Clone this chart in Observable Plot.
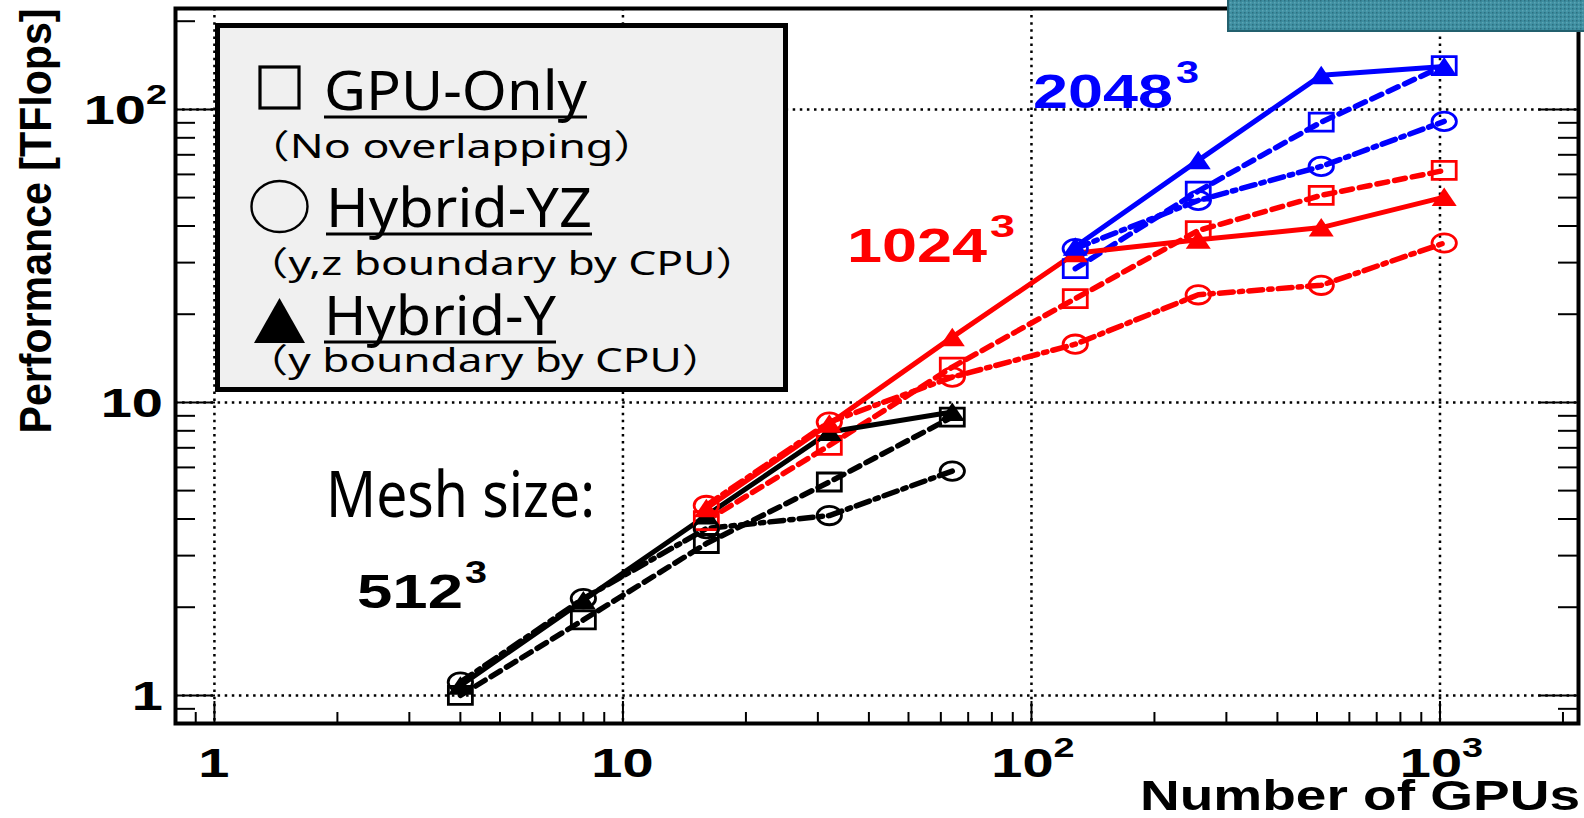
<!DOCTYPE html>
<html><head><meta charset="utf-8">
<script src="https://cdn.jsdelivr.net/npm/d3@7"></script>
<script src="https://cdn.jsdelivr.net/npm/@observablehq/plot@0.6"></script>
<style>
body{margin:0;background:#fff;}
#chart{position:relative;width:1584px;height:818px;overflow:hidden;}
</style>
</head><body><div id="chart"></div>
<script>
// ---- data ----
const meshes = ["512³", "1024³", "2048³"];
const meshColors = ["black", "red", "blue"];
const methods = ["GPU-Only", "Hybrid-YZ", "Hybrid-Y"];

const gpus512 = [4, 8, 16, 32, 64];
const gpuOnly512 = [1.0, 1.81, 3.30, 5.35, 8.91];
const hybridYZ512 = [1.11, 2.14, 3.71, 4.11, 5.83];
const hybridY512 = [1.08, 2.11, 4.11, 7.92, 9.27];

const gpus1024 = [16, 32, 64, 128, 256, 512, 1024];
const gpuOnly1024 = [3.95, 7.13, 13.2, 22.6, 38.6, 50.9, 61.9];
const hybridYZ1024 = [4.45, 8.57, 12.2, 15.8, 23.3, 25.1, 35.0];
const hybridY1024 = [4.35, 8.45, 16.7, 32.3, 35.9, 39.5, 50.2];

const gpus2048 = [128, 256, 512, 1024];
const gpuOnly2048 = [28.6, 52.6, 90.5, 141];
const hybridYZ2048 = [33.5, 48.9, 63.9, 91];
const hybridY2048 = [34, 67.0, 130.7, 140];

const xTickValues = [1, 10, 100, 1000];
const xTickBase = ["1", "10", "10", "10"];
const xTickExp = ["", "", "2", "3"];
const yTickValues = [1, 10, 100];
const yTickBase = ["1", "10", "10"];
const yTickExp = ["", "", "2"];
const xMinorTicks = [0.9, 2, 3, 4, 5, 6, 7, 8, 9, 20, 30, 40, 50, 60, 70, 80, 90, 200, 300, 400, 500, 600, 700, 800, 900, 2000];
const yMinorTicks = [0.9, 2, 3, 4, 5, 6, 7, 8, 9, 20, 30, 40, 50, 60, 70, 80, 90, 200];

const legendTitles = ["GPU-Only", "Hybrid-YZ", "Hybrid-Y"];
const legendNotes = ["（No overlapping）", "（y,z boundary by CPU）", "（y boundary by CPU）"];

// ---- build rows ----
const table = [
  [meshes[0], gpus512, [gpuOnly512, hybridYZ512, hybridY512]],
  [meshes[1], gpus1024, [gpuOnly1024, hybridYZ1024, hybridY1024]],
  [meshes[2], gpus2048, [gpuOnly2048, hybridYZ2048, hybridY2048]]
];
const rows = [];
for (const [mesh, gpus, vals] of table) {
  methods.forEach((m, k) => gpus.forEach((g, i) => rows.push({mesh, method: m, gpus: g, tflops: vals[k][i]})));
}
const byMethod = m => rows.filter(d => d.method === m);

// ---- layout ----
const W = 1584, H = 818;
const M = {left: 175, right: 6, top: 8, bottom: 95};
const innerW = W - M.left - M.right, innerH = H - M.top - M.bottom;

// ---- custom marker symbols ----
const wideSquare = {draw(c) { c.rect(-12, -9, 24, 18); }};
const ellipse = {draw(c) {
  const rx = 12.2, ry = 9.2, kx = rx * 0.5523, ky = ry * 0.5523;
  c.moveTo(rx, 0);
  c.bezierCurveTo(rx, ky, kx, ry, 0, ry);
  c.bezierCurveTo(-kx, ry, -rx, ky, -rx, 0);
  c.bezierCurveTo(-rx, -ky, -kx, -ry, 0, -ry);
  c.bezierCurveTo(kx, -ry, rx, -ky, rx, 0);
  c.closePath();
}};
const triangle = {draw(c) { c.moveTo(0, -9.5); c.lineTo(12.5, 9); c.lineTo(-12.5, 9); c.closePath(); }};

const dashed = {strokeDasharray: "11,7", strokeWidth: 5.5};
const dashDot = {strokeDasharray: "14,6,3.5,6", strokeWidth: 5.5};
const solid = {strokeWidth: 5};

const grid = {stroke: "black", strokeWidth: 2.5, strokeDasharray: "2.5,4.6"};

const svg = Plot.plot({
  width: W, height: H,
  marginLeft: M.left, marginRight: M.right, marginTop: M.top, marginBottom: M.bottom,
  x: {type: "log", domain: [0.803, 2183], axis: null},
  y: {type: "log", domain: [0.802, 221], axis: null},
  color: {domain: meshes, range: meshColors},
  style: {background: "white", overflow: "visible"},
  marks: [
    Plot.ruleX(xTickValues, {x: d => d, ...grid}),
    Plot.ruleY(yTickValues, {y: d => d, ...grid}),
    // inward ticks
    Plot.tickX(xMinorTicks, {x: d => d, insetTop: innerH - 11, stroke: "black", strokeWidth: 2}),
    Plot.tickX(xTickValues, {x: d => d, insetTop: innerH - 22, stroke: "black", strokeWidth: 2}),
    Plot.tickY(yMinorTicks, {y: d => d, insetRight: innerW - 20, stroke: "black", strokeWidth: 2}),
    Plot.tickY(yTickValues, {y: d => d, insetRight: innerW - 40, stroke: "black", strokeWidth: 2}),
    Plot.tickY(yMinorTicks, {y: d => d, insetLeft: innerW - 20, stroke: "black", strokeWidth: 2}),
    Plot.tickY(yTickValues, {y: d => d, insetLeft: innerW - 40, stroke: "black", strokeWidth: 2}),
    // series lines
    Plot.line(byMethod("GPU-Only"), {x: "gpus", y: "tflops", z: "mesh", stroke: "mesh", ...dashed}),
    Plot.line(byMethod("Hybrid-YZ"), {x: "gpus", y: "tflops", z: "mesh", stroke: "mesh", ...dashDot}),
    Plot.line(byMethod("Hybrid-Y"), {x: "gpus", y: "tflops", z: "mesh", stroke: "mesh", ...solid}),
    // markers
    Plot.dot(byMethod("GPU-Only"), {x: "gpus", y: "tflops", stroke: "mesh", fill: "none", strokeWidth: 2.8, symbol: wideSquare, r: 10}),
    Plot.dot(byMethod("Hybrid-YZ"), {x: "gpus", y: "tflops", stroke: "mesh", fill: "none", strokeWidth: 2.8, symbol: ellipse, r: 10}),
    Plot.dot(byMethod("Hybrid-Y"), {x: "gpus", y: "tflops", fill: "mesh", stroke: "none", symbol: triangle, r: 10}),
    Plot.frame({stroke: "black", strokeWidth: 4})
  ]
});
document.getElementById("chart").appendChild(svg);
const sx = svg.scale("x"), sy = svg.scale("y");

// ---- overlays: tick labels, legend box, annotations, axis titles ----
const g = d3.select(svg).append("g");
const bold = "Liberation Sans, Arial, sans-serif";
function txt(s, o) {
  const t = g.append("text").text(s)
    .attr("x", o.x).attr("y", o.y)
    .attr("font-size", o.size).attr("font-family", o.family || "Noto Sans, Noto Sans CJK JP")
    .attr("font-weight", o.weight || "normal").attr("fill", o.fill || "black")
    .attr("text-anchor", o.anchor || "start");
  if (o.len) t.attr("textLength", o.len).attr("lengthAdjust", "spacingAndGlyphs");
  if (o.transform) t.attr("transform", o.transform);
  return t;
}
// tick label: base + optional superscript, stretched horizontally
function tickLabel(base, exp, px, py, anchor) {
  const grp = g.append("g").attr("transform", `translate(${px},${py}) scale(1.4,1)`);
  const t = grp.append("text").attr("text-anchor", anchor)
    .attr("font-family", bold).attr("font-weight", "bold").attr("font-size", 40).attr("fill", "black");
  t.append("tspan").text(base);
  if (exp) t.append("tspan").attr("dy", -20).attr("font-size", 27).text(exp);
}
xTickValues.forEach((v, i) => {
  const shift = xTickExp[i] ? 2 : 0;
  tickLabel(xTickBase[i], xTickExp[i], sx.apply(v) + shift, 777, "middle");
});
yTickValues.forEach((v, i) => tickLabel(yTickBase[i], yTickExp[i], yTickExp[i] ? 167 : 163, sy.apply(v) + 15, "end"));

// teal box cut at the top right
const defs = d3.select(svg).append("defs");
const pat = defs.append("pattern").attr("id", "hatch").attr("width", 4).attr("height", 4).attr("patternUnits", "userSpaceOnUse");
pat.append("rect").attr("width", 4).attr("height", 4).attr("fill", "#3f8fa1");
pat.append("rect").attr("width", 1.5).attr("height", 1.5).attr("fill", "#2c6f80");
pat.append("rect").attr("x", 2).attr("y", 2).attr("width", 1.5).attr("height", 1.5).attr("fill", "#5aa4b4");
g.append("rect").attr("x", 1228).attr("y", -3).attr("width", 360).attr("height", 34)
  .attr("fill", "url(#hatch)").attr("stroke", "#23606e").attr("stroke-width", 2);

// legend box
g.append("rect").attr("x", 217.5).attr("y", 25.5).attr("width", 568).attr("height", 364)
  .attr("fill", "#f0f0f0").attr("stroke", "black").attr("stroke-width", 5);
g.append("rect").attr("x", 260).attr("y", 67).attr("width", 39).attr("height", 41)
  .attr("fill", "none").attr("stroke", "black").attr("stroke-width", 3.2);
g.append("ellipse").attr("cx", 279.5).attr("cy", 206.5).attr("rx", 28).attr("ry", 25.5)
  .attr("fill", "none").attr("stroke", "black").attr("stroke-width", 2.4);
g.append("path").attr("d", "M279.5,298L305,343L254,343Z").attr("fill", "black");

const legendRows = [
  {tx: 324, ty: 110, tl: 263, ul: 117, nx: 245, ny: 158, nl: 413},
  {tx: 326, ty: 227, tl: 266, ul: 234, nx: 244, ny: 275, nl: 516},
  {tx: 324, ty: 335, tl: 232, ul: 342, nx: 244, ny: 372, nl: 482}
];
legendRows.forEach((r, i) => {
  txt(legendTitles[i], {x: r.tx, y: r.ty, size: 54, len: r.tl});
  g.append("line").attr("x1", r.tx).attr("x2", r.tx + r.tl).attr("y1", r.ul).attr("y2", r.ul)
    .attr("stroke", "black").attr("stroke-width", 2.8);
  txt(legendNotes[i], {x: r.nx, y: r.ny, size: 33, len: r.nl});
});

// mesh annotations
txt("Mesh size:", {x: 326, y: 517, size: 63, len: 269});
txt("512", {x: 357, y: 607.5, size: 47.5, weight: "bold", family: bold, len: 106});
txt("3", {x: 465, y: 583, size: 31, weight: "bold", family: bold, len: 22});
txt("1024", {x: 847, y: 262, size: 47.5, weight: "bold", family: bold, len: 140, fill: "red"});
txt("3", {x: 990, y: 237, size: 31, weight: "bold", family: bold, len: 25, fill: "red"});
txt("2048", {x: 1033, y: 108, size: 47.5, weight: "bold", family: bold, len: 140, fill: "blue"});
txt("3", {x: 1176, y: 83, size: 31, weight: "bold", family: bold, len: 23, fill: "blue"});

// axis titles
txt("Performance [TFlops]", {x: 0, y: 0, size: 44, weight: "bold", family: bold, len: 425,
  anchor: "middle", transform: "translate(51,221) rotate(-90)"});
txt("Number of GPUs", {x: 1140, y: 810, size: 42, weight: "bold", family: bold, len: 440});
</script>
</body></html>
